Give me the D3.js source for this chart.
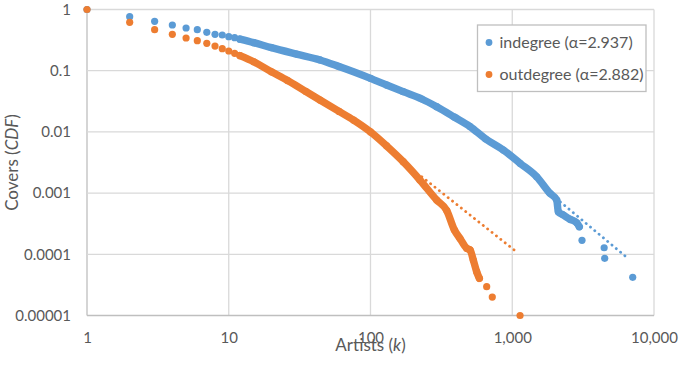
<!DOCTYPE html>
<html>
<head>
<meta charset="utf-8">
<script src="https://cdn.jsdelivr.net/npm/d3@7"></script>
<style>
  body { margin: 0; background: #fff; }
  svg text { font-family: Lato, "Open Sans", sans-serif; fill: #595959; }
</style>
</head>
<body>
<script>
const width = 682;
const height = 365;
const margin = {top: 9.5, right: 28, bottom: 49.5, left: 87};
const innerW = width - margin.left - margin.right;
const innerH = height - margin.top - margin.bottom;

// indegree CDF
const inK = [1, 2, 3, 4, 5, 6, 7, 8, 9, 10, 11, 12, 15, 20, 30, 44, 60, 100, 130, 170, 230, 293, 390, 504, 650, 865, 1135, 1487, 1845, 2060, 2113, 2292, 2555, 2850, 2972, 3105, 4450, 4490, 7077];
const inCdf = [1, 0.763, 0.641, 0.558, 0.499, 0.468, 0.424, 0.393, 0.383, 0.360, 0.347, 0.328, 0.287, 0.238, 0.187, 0.150, 0.117, 0.075, 0.0584, 0.0454, 0.0345, 0.0258, 0.0175, 0.0122, 0.00766, 0.00506, 0.00307, 0.00185, 0.000993, 0.00077, 0.000497, 0.000439, 0.000373, 0.000328, 0.000282, 0.000169, 0.000128, 0.0000861, 0.0000421];

// outdegree CDF
const outK = [1, 2, 3, 4, 5, 6, 7, 8, 9, 10, 11, 12, 15, 20, 26, 35, 44, 60, 76, 100, 130, 170, 223, 293, 345, 390, 428, 477, 504, 531, 561, 586, 660, 723, 1135];
const outCdf = [1, 0.618, 0.468, 0.393, 0.342, 0.309, 0.280, 0.253, 0.229, 0.210, 0.192, 0.176, 0.140, 0.096, 0.069, 0.0457, 0.0332, 0.0216, 0.0156, 0.0100, 0.00589, 0.00326, 0.00164, 0.00077, 0.00052, 0.000252, 0.000181, 0.000125, 0.000118, 0.0000807, 0.000052, 0.0000405, 0.0000296, 0.00002, 0.00001];

// power-law fit lines (tail only)
const inTrendK = [1900, 6630];
const inTrendCdf = [0.00094, 0.0000838];
const outTrendK = [230, 1092];
const outTrendCdf = [0.00185, 0.000106];

const seriesNames = ['indegree (\u03b1=2.937)', 'outdegree (\u03b1=2.882)'];
const colors = ['#5B9BD5', '#ED7D31'];

const xTicks = [1, 10, 100, 1000, 10000];
const xTickLabels = ['1', '10', '100', '1,000', '10,000'];
const yTicks = [1, 0.1, 0.01, 0.001, 0.0001, 0.00001];
const yTickLabels = ['1', '0.1', '0.01', '0.001', '0.0001', '0.00001'];

const x = d3.scaleLog().domain([1, 10000]).range([0, innerW]);
const y = d3.scaleLog().domain([0.00001, 1]).range([innerH, 0]);

const svg = d3.select('body').append('svg')
  .attr('width', width)
  .attr('height', height);

const g = svg.append('g')
  .attr('transform', `translate(${margin.left},${margin.top})`);

// gridlines
g.append('g')
  .selectAll('line.vgrid')
  .data(xTicks)
  .join('line')
  .attr('class', 'vgrid')
  .attr('x1', d => x(d)).attr('x2', d => x(d))
  .attr('y1', 0).attr('y2', innerH)
  .attr('stroke', d => d === 1 ? '#BFBFBF' : '#D9D9D9')
  .attr('stroke-width', 1.3);

g.append('g')
  .selectAll('line.hgrid')
  .data(yTicks)
  .join('line')
  .attr('class', 'hgrid')
  .attr('x1', 0).attr('x2', innerW)
  .attr('y1', d => y(d)).attr('y2', d => y(d))
  .attr('stroke', d => d === 0.00001 ? '#BFBFBF' : '#D9D9D9')
  .attr('stroke-width', 1.3);

// axes (labels only)
const xAxis = g.append('g')
  .attr('transform', `translate(0,${innerH})`)
  .call(d3.axisBottom(x).tickValues(xTicks).tickSize(0).tickPadding(16.5)
    .tickFormat((d, i) => xTickLabels[i]));
const yAxis = g.append('g')
  .call(d3.axisLeft(y).tickValues(yTicks).tickSize(0).tickPadding(16)
    .tickFormat((d, i) => yTickLabels[i]));
[xAxis, yAxis].forEach(a => {
  a.select('.domain').remove();
  a.selectAll('text').style('font-size', '15px').attr('fill', '#595959');
});

// axis titles
const xTitle = svg.append('text')
  .attr('x', margin.left + x(100))
  .attr('y', 351)
  .attr('text-anchor', 'middle')
  .style('font-size', '17px');
xTitle.append('tspan').text('Artists (');
xTitle.append('tspan').style('font-style', 'italic').text('k');
xTitle.append('tspan').text(')');

const yTitle = svg.append('text')
  .attr('transform', `translate(17.5,${margin.top + innerH / 2}) rotate(-90)`)
  .attr('text-anchor', 'middle')
  .style('font-size', '17px');
yTitle.append('tspan').text('Covers (');
yTitle.append('tspan').style('font-style', 'italic').text('CDF');
yTitle.append('tspan').text(')');

function zip(ks, vs) {
  return ks.map((k, i) => ({k: k, v: vs[i]}));
}

const series = [zip(inK, inCdf), zip(outK, outCdf)];
const trends = [zip(inTrendK, inTrendCdf), zip(outTrendK, outTrendCdf)];
// range of k where neighbouring dots run together into a band
const bandRange = [[12, 2972], [12, 586]];

const line = d3.line()
  .x(d => x(d.k))
  .y(d => y(d.v));

// trend lines
trends.forEach((t, i) => {
  g.append('path')
    .datum(t)
    .attr('d', line)
    .attr('fill', 'none')
    .attr('stroke', colors[i])
    .attr('stroke-width', 2.8)
    .attr('stroke-linecap', 'round')
    .attr('stroke-dasharray', '0.1 5.5');
});

// data
series.forEach((s, i) => {
  const gs = g.append('g').attr('class', 'series-' + i);
  const band = s.filter(d => d.k >= bandRange[i][0] && d.k <= bandRange[i][1]);
  gs.append('path')
    .datum(band)
    .attr('d', line.curve(d3.curveMonotoneX))
    .attr('fill', 'none')
    .attr('stroke', colors[i])
    .attr('stroke-width', 7.4)
    .attr('stroke-linejoin', 'round')
    .attr('stroke-linecap', 'round');
  line.curve(d3.curveLinear);
  gs.selectAll('circle')
    .data(s)
    .join('circle')
    .attr('cx', d => x(d.k))
    .attr('cy', d => y(d.v))
    .attr('r', 3.6)
    .attr('fill', colors[i]);
});

// legend
const legend = svg.append('g').attr('transform', 'translate(477.5,25)');
legend.append('rect')
  .attr('width', 168.5)
  .attr('height', 66.5)
  .attr('fill', '#fff')
  .attr('stroke', '#BFBFBF')
  .attr('stroke-width', 1.3);
seriesNames.forEach((name, i) => {
  const row = legend.append('g').attr('transform', `translate(0,${17.5 + i * 32})`);
  row.append('circle')
    .attr('cx', 11.5)
    .attr('cy', 0)
    .attr('r', 3.4)
    .attr('fill', colors[i]);
  row.append('text')
    .attr('x', 22)
    .attr('y', 5.5)
    .style('font-size', '16px')
    .text(name);
});
</script>
</body>
</html>
